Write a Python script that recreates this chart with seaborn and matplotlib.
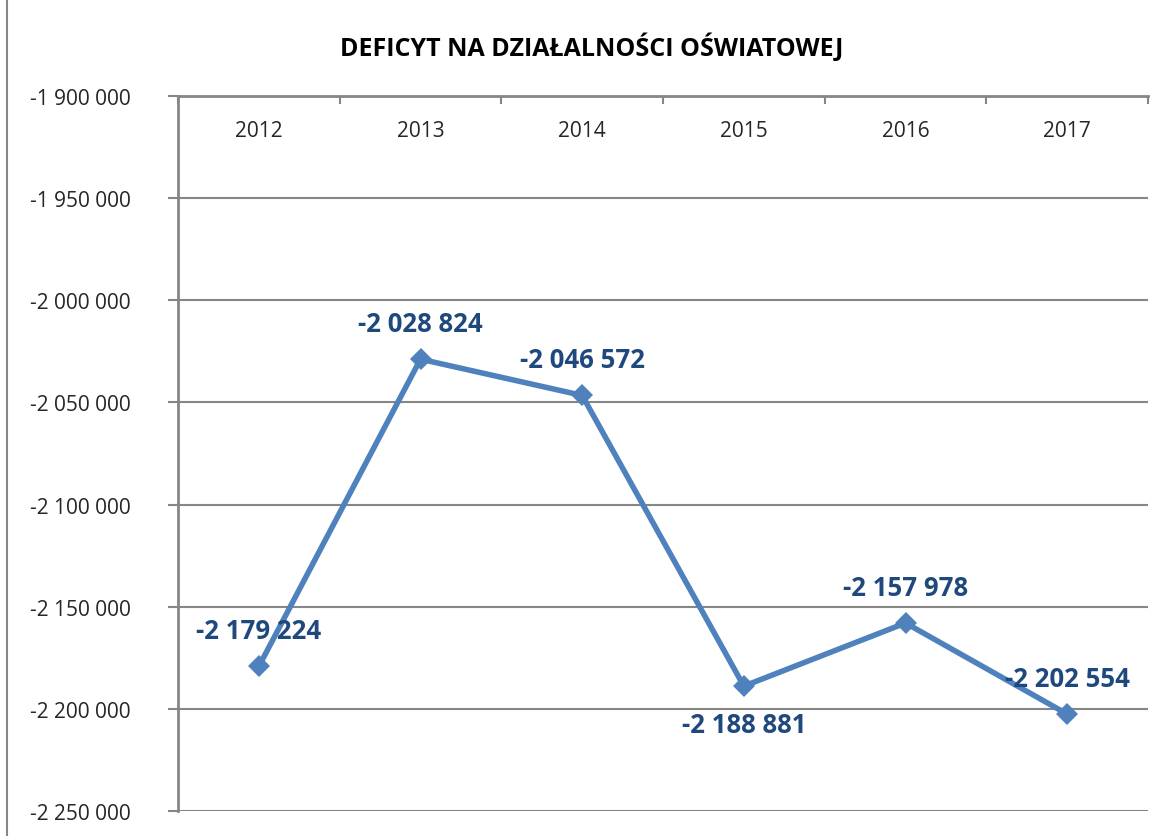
import numpy as np
import pandas as pd
import seaborn as sns
import matplotlib.pyplot as plt
from matplotlib.lines import Line2D
from matplotlib.ticker import FixedLocator, FuncFormatter

# --- DANE ---
years = ["2012", "2013", "2014", "2015", "2016", "2017"]
deficit = [-2179224, -2028824, -2046572, -2188881, -2157978, -2202554]
label_side = ["above", "above", "above", "below", "above", "above"]

title = "DEFICYT NA DZIAŁALNOŚCI OŚWIATOWEJ"

line_color = "#4F81BD"
label_color = "#1F497D"
grid_color = "#868686"


def fmt_pl(v):
    # separator tysięcy jako spacja
    return f"{v:,.0f}".replace(",", " ")


sns.set_style("white")
plt.rcParams["font.family"] = ["Open Sans", "DejaVu Sans"]

df = pd.DataFrame({"rok": years, "deficyt": deficit})

fig = plt.figure(figsize=(11.64, 8.37), dpi=100)
ax = fig.add_axes([178 / 1164, 1 - 812 / 837, (1148 - 178) / 1164, (812 - 97) / 837])

sns.lineplot(data=df, x="rok", y="deficyt", ax=ax, color=line_color,
             linewidth=4, marker="D", markersize=11, markeredgewidth=0,
             sort=False, zorder=3)

ax.set_xlim(-0.5, len(years) - 0.5)
ax.set_ylim(-2250000, -1900000)
ax.set_xlabel("")
ax.set_ylabel("")

# oś Y
ax.yaxis.set_major_locator(FixedLocator(np.arange(-2250000, -1899999, 50000)))
ax.yaxis.set_major_formatter(FuncFormatter(lambda v, p: fmt_pl(v)))
ax.grid(axis="y", color=grid_color, linewidth=1.5)
ax.grid(axis="x", visible=False)
ax.tick_params(axis="y", which="major", left=True, length=7, width=1.5,
               color=grid_color, labelsize=15, pad=27)

# oś X na górze, etykiety wewnątrz wykresu
ax.xaxis.tick_top()
ax.tick_params(axis="x", which="major", top=False, bottom=False,
               labeltop=True, labelbottom=False, labelsize=15, pad=-36)
ax.xaxis.set_minor_locator(FixedLocator(np.arange(-0.5, len(years), 1.0)))
ax.tick_params(axis="x", which="minor", top=True, direction="in",
               length=6, width=1.5, color=grid_color)

for side in ["right", "bottom"]:
    ax.spines[side].set_visible(False)
for side in ["left", "top"]:
    ax.spines[side].set_color(grid_color)
    ax.spines[side].set_linewidth(2)

# etykiety danych
for i, (v, side) in enumerate(zip(deficit, label_side)):
    dy = 36 if side == "above" else -38
    ax.annotate(fmt_pl(v), (i, v), xytext=(0, dy), textcoords="offset pixels",
                ha="center", va="center", fontsize=18.5, fontweight="bold",
                color=label_color, zorder=4)

fig.text(592 / 1164, 1 - 48 / 837, title, ha="center", va="center",
         fontsize=18, fontweight="bold", color="black")

# ramka wykresu po lewej stronie
fig.add_artist(Line2D([7 / 1164, 7 / 1164], [0, 1], color=grid_color,
                      linewidth=1.5, transform=fig.transFigure))

fig.savefig("out.png", dpi=100)
